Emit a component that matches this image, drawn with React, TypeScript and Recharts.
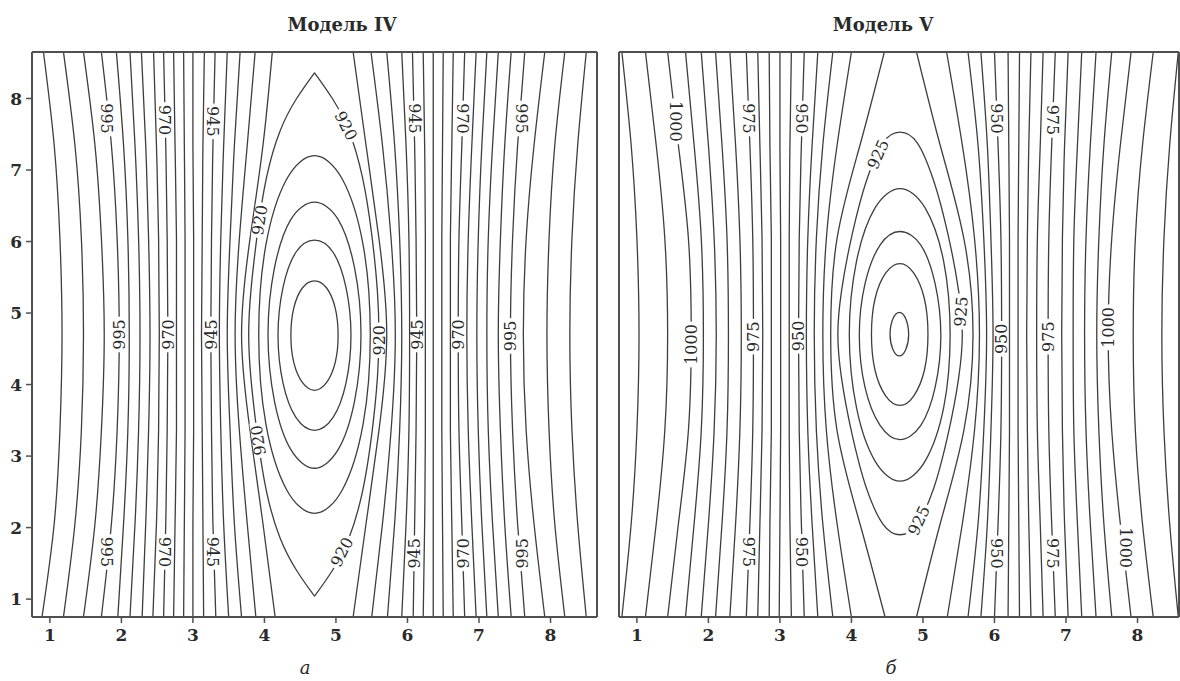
import { LineChart, Line, XAxis, YAxis, ReferenceDot } from "recharts";

type Pt = { x: number; y: number };
type Tag = { text: string; x: number; y: number; angle: number };

const axisTicks = [1, 2, 3, 4, 5, 6, 7, 8];
// heights at which the open isolines are sampled, top to bottom
const yStations = [8.65, 7.35, 6.05, 4.7, 3.35, 2.05, 0.75];

// ---------- Модель IV ----------
const ivLevels = [925, 930, 935, 940, 945, 950, 955, 960, 965, 970, 975, 980, 985, 990, 995, 1000, 1005, 1010];
const ivWest = [
  [4.11, 3.98, 3.8, 3.68, 3.8, 3.98, 4.15],
  [3.87, 3.76, 3.65, 3.59, 3.65, 3.76, 3.88],
  [3.66, 3.58, 3.52, 3.48, 3.52, 3.58, 3.68],
  [3.48, 3.43, 3.39, 3.37, 3.39, 3.43, 3.5],
  [3.31, 3.28, 3.26, 3.25, 3.26, 3.28, 3.32],
  [3.16, 3.14, 3.13, 3.12, 3.13, 3.14, 3.15],
  [3.0, 3.0, 3.01, 3.01, 3.01, 3.0, 3.0],
  [2.87, 2.88, 2.89, 2.89, 2.89, 2.88, 2.87],
  [2.73, 2.75, 2.77, 2.77, 2.77, 2.75, 2.73],
  [2.59, 2.62, 2.64, 2.65, 2.64, 2.62, 2.59],
  [2.45, 2.49, 2.52, 2.53, 2.52, 2.49, 2.44],
  [2.28, 2.34, 2.38, 2.4, 2.38, 2.34, 2.29],
  [2.12, 2.19, 2.24, 2.26, 2.24, 2.19, 2.12],
  [1.93, 2.03, 2.09, 2.11, 2.09, 2.03, 1.95],
  [1.72, 1.86, 1.94, 1.97, 1.94, 1.86, 1.72],
  [1.47, 1.63, 1.72, 1.76, 1.72, 1.63, 1.47],
  [1.19, 1.35, 1.44, 1.47, 1.44, 1.35, 1.19],
  [0.91, 1.06, 1.14, 1.17, 1.14, 1.06, 0.89],
];
const ivEast = [
  [5.24, 5.42, 5.6, 5.71, 5.6, 5.42, 5.24],
  [5.49, 5.65, 5.77, 5.83, 5.77, 5.65, 5.5],
  [5.71, 5.82, 5.89, 5.92, 5.89, 5.82, 5.72],
  [5.92, 5.98, 6.02, 6.03, 6.02, 5.98, 5.92],
  [6.07, 6.1, 6.12, 6.13, 6.12, 6.1, 6.08],
  [6.22, 6.24, 6.25, 6.25, 6.25, 6.24, 6.22],
  [6.36, 6.36, 6.36, 6.36, 6.36, 6.36, 6.36],
  [6.5, 6.49, 6.48, 6.48, 6.48, 6.49, 6.5],
  [6.64, 6.62, 6.6, 6.6, 6.6, 6.62, 6.64],
  [6.8, 6.76, 6.72, 6.71, 6.72, 6.76, 6.8],
  [6.96, 6.9, 6.85, 6.83, 6.85, 6.9, 6.96],
  [7.11, 7.04, 6.99, 6.97, 6.99, 7.04, 7.11],
  [7.27, 7.19, 7.13, 7.11, 7.13, 7.19, 7.27],
  [7.45, 7.36, 7.3, 7.27, 7.3, 7.36, 7.45],
  [7.64, 7.54, 7.47, 7.44, 7.47, 7.54, 7.64],
  [7.92, 7.77, 7.66, 7.62, 7.66, 7.77, 7.92],
  [8.2, 8.06, 7.98, 7.95, 7.98, 8.06, 8.2],
  [8.5, 8.38, 8.3, 8.27, 8.3, 8.38, 8.5],
];
// the 920 isoline: a lens with sharp tips, kept as two halves
const ivLens = [
  [[4.7, 8.36], [4.45, 8.0], [4.22, 7.55], [4.03, 6.9], [3.9, 6.1], [3.81, 5.3], [3.78, 4.7], [3.81, 4.1], [3.9, 3.3], [4.03, 2.5], [4.22, 1.85], [4.45, 1.4], [4.7, 1.04]],
  [[4.7, 8.36], [4.95, 8.0], [5.18, 7.55], [5.37, 6.9], [5.5, 6.1], [5.58, 5.3], [5.6, 4.7], [5.58, 4.1], [5.5, 3.3], [5.37, 2.5], [5.18, 1.85], [4.95, 1.4], [4.7, 1.04]],
];
const ivRingLevels = [915, 910, 905, 900];
const ivRings = [
  [[4.7, 7.2], [5.09, 6.87], [5.38, 5.95], [5.48, 4.7], [5.38, 3.45], [5.09, 2.53], [4.7, 2.2], [4.31, 2.53], [4.02, 3.45], [3.92, 4.7], [4.02, 5.95], [4.31, 6.87]],
  [[4.7, 6.55], [5.03, 6.31], [5.26, 5.63], [5.35, 4.7], [5.26, 3.77], [5.03, 3.09], [4.7, 2.83], [4.37, 3.09], [4.14, 3.77], [4.05, 4.7], [4.14, 5.63], [4.37, 6.31]],
  [[4.7, 6.02], [4.96, 5.85], [5.14, 5.36], [5.21, 4.69], [5.14, 4.02], [4.96, 3.54], [4.7, 3.36], [4.44, 3.54], [4.26, 4.02], [4.19, 4.69], [4.26, 5.36], [4.44, 5.85]],
  [[4.7, 5.45], [4.87, 5.35], [4.99, 5.07], [5.03, 4.69], [4.99, 4.31], [4.87, 4.03], [4.7, 3.92], [4.53, 4.03], [4.41, 4.31], [4.37, 4.69], [4.41, 5.07], [4.53, 5.35]],
];
const ivTags: Tag[] = [
  { text: "995", x: 1.8, y: 7.72, angle: 90 },
  { text: "970", x: 2.6, y: 7.7, angle: 90 },
  { text: "945", x: 3.28, y: 7.68, angle: 90 },
  { text: "920", x: 5.14, y: 7.62, angle: 63 },
  { text: "945", x: 6.1, y: 7.72, angle: 90 },
  { text: "970", x: 6.78, y: 7.72, angle: 90 },
  { text: "995", x: 7.6, y: 7.72, angle: 90 },
  { text: "920", x: 3.93, y: 6.3, angle: -81 },
  { text: "995", x: 1.97, y: 4.7, angle: -90 },
  { text: "970", x: 2.65, y: 4.7, angle: -90 },
  { text: "945", x: 3.25, y: 4.7, angle: -90 },
  { text: "920", x: 5.6, y: 4.62, angle: -90 },
  { text: "945", x: 6.13, y: 4.7, angle: -90 },
  { text: "970", x: 6.71, y: 4.7, angle: -90 },
  { text: "995", x: 7.44, y: 4.68, angle: -90 },
  { text: "920", x: 3.91, y: 3.22, angle: -99 },
  { text: "995", x: 1.8, y: 1.66, angle: 90 },
  { text: "970", x: 2.6, y: 1.66, angle: 90 },
  { text: "945", x: 3.28, y: 1.66, angle: 90 },
  { text: "920", x: 5.08, y: 1.66, angle: -63 },
  { text: "945", x: 6.1, y: 1.64, angle: -90 },
  { text: "970", x: 6.78, y: 1.64, angle: -90 },
  { text: "995", x: 7.6, y: 1.64, angle: -90 },
];

// ---------- Модель V ----------
const vLevels = [930, 935, 940, 945, 950, 955, 960, 965, 970, 975, 980, 985, 990, 995, 1000, 1005, 1010];
const vWest = [
  [4.46, 4.12, 3.8, 3.71, 3.8, 4.12, 4.47],
  [4.0, 3.8, 3.65, 3.6, 3.65, 3.8, 4.0],
  [3.74, 3.6, 3.51, 3.48, 3.51, 3.6, 3.74],
  [3.53, 3.45, 3.39, 3.37, 3.39, 3.45, 3.53],
  [3.34, 3.3, 3.27, 3.26, 3.27, 3.3, 3.34],
  [3.16, 3.14, 3.13, 3.13, 3.13, 3.14, 3.16],
  [3.0, 3.0, 3.01, 3.01, 3.01, 3.0, 2.99],
  [2.85, 2.86, 2.88, 2.88, 2.88, 2.86, 2.85],
  [2.69, 2.72, 2.75, 2.76, 2.75, 2.72, 2.69],
  [2.53, 2.58, 2.62, 2.63, 2.62, 2.58, 2.53],
  [2.3, 2.38, 2.44, 2.46, 2.44, 2.38, 2.3],
  [2.1, 2.19, 2.26, 2.28, 2.26, 2.19, 2.1],
  [1.9, 2.0, 2.08, 2.11, 2.08, 2.0, 1.9],
  [1.68, 1.8, 1.9, 1.93, 1.9, 1.8, 1.68],
  [1.43, 1.58, 1.72, 1.76, 1.72, 1.58, 1.43],
  [1.12, 1.27, 1.39, 1.43, 1.39, 1.27, 1.12],
  [0.79, 0.92, 1.0, 1.03, 1.0, 0.92, 0.79],
];
const vEast = [
  [4.91, 5.24, 5.57, 5.7, 5.57, 5.24, 4.91],
  [5.33, 5.55, 5.72, 5.79, 5.72, 5.55, 5.34],
  [5.63, 5.77, 5.85, 5.89, 5.85, 5.77, 5.63],
  [5.81, 5.9, 5.95, 5.98, 5.95, 5.9, 5.81],
  [6.0, 6.05, 6.09, 6.1, 6.09, 6.05, 6.0],
  [6.19, 6.2, 6.21, 6.21, 6.21, 6.2, 6.19],
  [6.35, 6.34, 6.33, 6.33, 6.33, 6.34, 6.35],
  [6.51, 6.48, 6.46, 6.45, 6.46, 6.48, 6.51],
  [6.68, 6.64, 6.6, 6.59, 6.6, 6.64, 6.68],
  [6.85, 6.8, 6.76, 6.75, 6.76, 6.8, 6.85],
  [7.03, 6.98, 6.95, 6.94, 6.95, 6.98, 7.03],
  [7.22, 7.16, 7.11, 7.1, 7.11, 7.16, 7.22],
  [7.42, 7.34, 7.28, 7.26, 7.28, 7.34, 7.42],
  [7.64, 7.53, 7.46, 7.43, 7.46, 7.53, 7.64],
  [7.91, 7.76, 7.64, 7.59, 7.64, 7.76, 7.91],
  [8.22, 8.07, 7.97, 7.94, 7.97, 8.07, 8.22],
  [8.57, 8.45, 8.37, 8.34, 8.37, 8.45, 8.57],
];
const vRingLevels = [925, 920, 915, 910, 905];
const vRings = [
  [[4.68, 7.53], [4.92, 7.38], [5.15, 6.85], [5.35, 6.1], [5.5, 5.3], [5.55, 4.7], [5.5, 4.1], [5.35, 3.3], [5.15, 2.55], [4.92, 2.05], [4.68, 1.9], [4.44, 2.05], [4.21, 2.55], [4.01, 3.3], [3.86, 4.1], [3.81, 4.7], [3.86, 5.3], [4.01, 6.1], [4.21, 6.85], [4.44, 7.38]],
  [[4.68, 6.74], [5.03, 6.47], [5.29, 5.72], [5.38, 4.7], [5.29, 3.68], [5.03, 2.93], [4.68, 2.65], [4.33, 2.93], [4.07, 3.68], [3.97, 4.7], [4.07, 5.72], [4.33, 6.47]],
  [[4.68, 6.14], [4.97, 5.95], [5.17, 5.41], [5.25, 4.69], [5.17, 3.96], [4.97, 3.43], [4.68, 3.23], [4.4, 3.43], [4.19, 3.96], [4.11, 4.69], [4.19, 5.41], [4.4, 5.95]],
  [[4.68, 5.69], [4.87, 5.56], [5.02, 5.2], [5.07, 4.7], [5.02, 4.2], [4.87, 3.84], [4.68, 3.71], [4.48, 3.84], [4.33, 4.2], [4.28, 4.7], [4.33, 5.2], [4.48, 5.56]],
  [[4.67, 5.01], [4.76, 4.92], [4.8, 4.7], [4.76, 4.49], [4.67, 4.4], [4.58, 4.49], [4.54, 4.7], [4.58, 4.92]],
];
const vTags: Tag[] = [
  { text: "1000", x: 1.54, y: 7.68, angle: 90 },
  { text: "975", x: 2.56, y: 7.72, angle: 90 },
  { text: "950", x: 3.31, y: 7.72, angle: 90 },
  { text: "925", x: 4.37, y: 7.22, angle: -66 },
  { text: "950", x: 6.03, y: 7.72, angle: 90 },
  { text: "975", x: 6.82, y: 7.7, angle: 90 },
  { text: "1000", x: 1.76, y: 4.56, angle: -90 },
  { text: "975", x: 2.63, y: 4.67, angle: -90 },
  { text: "950", x: 3.26, y: 4.68, angle: -90 },
  { text: "925", x: 5.53, y: 5.02, angle: -85 },
  { text: "950", x: 6.1, y: 4.64, angle: -90 },
  { text: "975", x: 6.75, y: 4.67, angle: -90 },
  { text: "1000", x: 7.59, y: 4.8, angle: -90 },
  { text: "975", x: 2.56, y: 1.66, angle: 90 },
  { text: "950", x: 3.31, y: 1.66, angle: 90 },
  { text: "925", x: 4.94, y: 2.1, angle: -65 },
  { text: "950", x: 6.03, y: 1.64, angle: 90 },
  { text: "975", x: 6.82, y: 1.64, angle: 90 },
  { text: "1000", x: 7.83, y: 1.72, angle: 90 },
];

const INK = "#3e3e3e";
const FRAME = "#505050";
const FONT = "'DejaVu Serif', serif";

const stationLine = (xs: number[]): Pt[] => xs.map((x, i) => ({ x, y: yStations[i] }));
const toPts = (p: number[][]): Pt[] => p.map(([x, y]) => ({ x, y }));

// closed Catmull-Rom curve through every point, used for the ring isolines
function closedSpline(context: any) {
  let pts: number[][] = [];
  return {
    areaStart() {},
    areaEnd() {},
    lineStart() {
      pts = [];
    },
    point(x: number, y: number) {
      pts.push([x, y]);
    },
    lineEnd() {
      const n = pts.length;
      if (!n) return;
      context.moveTo(pts[0][0], pts[0][1]);
      for (let i = 0; i < n; i++) {
        const p0 = pts[(i - 1 + n) % n];
        const p1 = pts[i];
        const p2 = pts[(i + 1) % n];
        const p3 = pts[(i + 2) % n];
        context.bezierCurveTo(
          p1[0] + (p2[0] - p0[0]) / 6,
          p1[1] + (p2[1] - p0[1]) / 6,
          p2[0] - (p3[0] - p1[0]) / 6,
          p2[1] - (p3[1] - p1[1]) / 6,
          p2[0],
          p2[1]
        );
      }
      context.closePath();
    },
  };
}

function ContourTag({ cx, cy, text, angle }: { cx: number; cy: number; text: string; angle: number }) {
  const w = text.length * 10.2 + 5;
  return (
    <g transform={`translate(${cx},${cy}) rotate(${angle})`}>
      <rect x={-w / 2} y={-6} width={w} height={12} fill="#fff" />
      <text x={0} y={0} dy="0.36em" textAnchor="middle" fontFamily={FONT} fontSize={16} fill="#2a2a2a">
        {text}
      </text>
    </g>
  );
}

type PanelProps = {
  left: number;
  width: number;
  xMax: number;
  margin: { top: number; right: number; bottom: number; left: number };
  yLabels: boolean;
  levels: number[];
  west: number[][];
  east: number[][];
  halves: number[][][];
  ringLevels: number[];
  rings: number[][][];
  tags: Tag[];
};

const lineProps = {
  xAxisId: "b",
  yAxisId: "l",
  dataKey: "y",
  stroke: INK,
  strokeWidth: 1.3,
  dot: false,
  activeDot: false,
  legendType: "none" as const,
  isAnimationActive: false,
};

function ContourPanel(p: PanelProps) {
  const tickStyle = { fill: "#2a2a2a", fontSize: 17, fontFamily: FONT, fontWeight: 700 };
  const axisLine = { stroke: FRAME, strokeWidth: 2 };
  const tickLine = { stroke: FRAME, strokeWidth: 1.5 };
  const xDomain: [number, number] = [0.75, p.xMax];
  const yDomain: [number, number] = [0.75, 8.65];
  return (
    <div style={{ position: "absolute", left: p.left, top: 0 }}>
      <LineChart width={p.width} height={681} margin={p.margin}>
        <XAxis xAxisId="b" type="number" dataKey="x" orientation="bottom" domain={xDomain} allowDataOverflow
          ticks={axisTicks} interval={0} height={30} tickSize={6} tickMargin={6}
          axisLine={axisLine} tickLine={tickLine} tick={tickStyle} />
        <XAxis xAxisId="t" type="number" dataKey="x" orientation="top" domain={xDomain} allowDataOverflow
          ticks={axisTicks} interval={0} height={8} tickSize={6}
          axisLine={axisLine} tickLine={tickLine} tick={false} />
        <YAxis yAxisId="l" type="number" orientation="left" domain={yDomain} allowDataOverflow
          ticks={axisTicks} interval={0} width={p.yLabels ? 26 : 10} tickSize={6} tickMargin={4}
          axisLine={axisLine} tickLine={tickLine} tick={p.yLabels ? tickStyle : false} />
        <YAxis yAxisId="r" type="number" orientation="right" domain={yDomain} allowDataOverflow
          ticks={axisTicks} interval={0} width={8} tickSize={6}
          axisLine={axisLine} tickLine={tickLine} tick={false} />
        {p.west.map((xs, i) => (
          <Line key={`w${p.levels[i]}`} {...lineProps} type="natural" data={stationLine(xs)} />
        ))}
        {p.east.map((xs, i) => (
          <Line key={`e${p.levels[i]}`} {...lineProps} type="natural" data={stationLine(xs)} />
        ))}
        {p.halves.map((h, i) => (
          <Line key={`h${i}`} {...lineProps} type="natural" data={toPts(h)} />
        ))}
        {p.rings.map((r, i) => (
          <Line key={`r${p.ringLevels[i]}`} {...lineProps} type={closedSpline as any} data={toPts(r)} />
        ))}
        {p.tags.map((t, i) => (
          <ReferenceDot key={`t${i}`} xAxisId="b" yAxisId="l" x={t.x} y={t.y} r={0} ifOverflow="visible"
            shape={(s: any) => <ContourTag cx={s.cx} cy={s.cy} text={t.text} angle={t.angle} />} />
        ))}
      </LineChart>
    </div>
  );
}

export default function App() {
  return (
    <div style={{ position: "fixed", left: 0, top: 0, width: 1180, height: 681, overflow: "hidden", background: "#fff" }}>
      <ContourPanel left={0} width={620} xMax={8.65} margin={{ top: 44, right: 15, bottom: 34, left: 6 }}
        yLabels levels={ivLevels} west={ivWest} east={ivEast} halves={ivLens}
        ringLevels={ivRingLevels} rings={ivRings} tags={ivTags} />
      <ContourPanel left={600} width={600} xMax={8.58} margin={{ top: 44, right: 13, bottom: 34, left: 9 }}
        yLabels={false} levels={vLevels} west={vWest} east={vEast} halves={[]}
        ringLevels={vRingLevels} rings={vRings} tags={vTags} />
      <svg width={1180} height={681} style={{ position: "absolute", left: 0, top: 0, pointerEvents: "none" }}>
        <g fontFamily={FONT} fill="#2a2a2a" textAnchor="middle">
          <text x={342} y={31} fontSize={18} fontWeight={700}>Модель IV</text>
          <text x={883} y={31} fontSize={18} fontWeight={700}>Модель V</text>
          <text x={305} y={674} fontSize={18} fontStyle="italic">а</text>
          <text x={891} y={674} fontSize={18} fontStyle="italic">б</text>
        </g>
      </svg>
    </div>
  );
}
